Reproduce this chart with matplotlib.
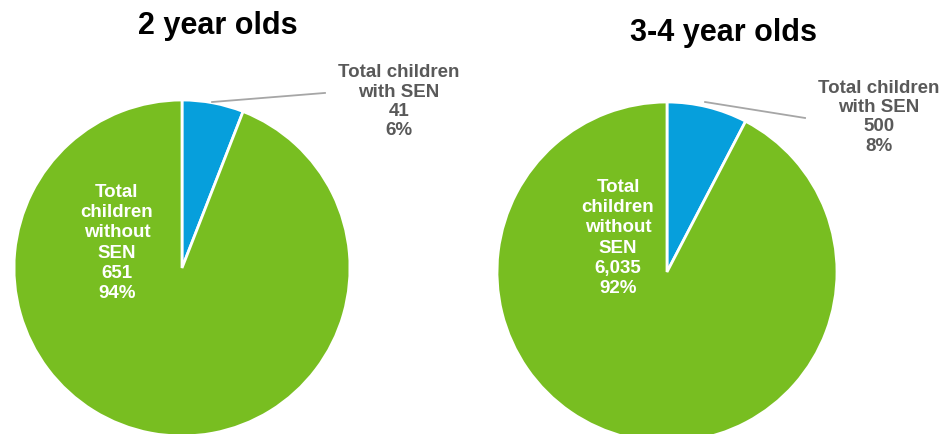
import matplotlib.pyplot as plt

plt.rcParams['font.family'] = ['Liberation Sans', 'DejaVu Sans']

# Children counts by SEN status
titles = ['2 year olds', '3-4 year olds']
with_sen = [41, 500]
without_sen = [651, 6035]

blue = '#069FDC'
green = '#78BE21'
grey_text = '#595959'

fig = plt.figure(figsize=(9.43, 4.34), dpi=100)
W, H = 943, 434

# pixel layout: centre x, centre y (from top), radius
layout = [(182, 268, 168), (667, 272, 170)]
title_pos = [(218, 26), (723, 33)]
outer_lbl = [(1.29, 0.99), (1.247, 0.91)]
inner_lbl = [(-0.387, 0.149), (-0.288, 0.2)]
leaders = [((0.179, 0.988), (0.851, 1.042)), ((0.224, 1.0), (0.812, 0.906))]

for i in range(2):
    cx, cy, r = layout[i]
    ax = fig.add_axes([(cx - r) / W, (H - cy - r) / H, 2 * r / W, 2 * r / H])
    vals = [with_sen[i], without_sen[i]]
    total = sum(vals)
    ax.pie(vals, colors=[blue, green], startangle=90, counterclock=False,
           radius=1, wedgeprops=dict(edgecolor='white', linewidth=2))
    ax.set_xlim(-1, 1)
    ax.set_ylim(-1, 1)
    ax.set_aspect('equal')
    ax.axis('off')

    pct_in = round(100 * with_sen[i] / total)
    pct_out = round(100 * without_sen[i] / total)
    ax.text(*outer_lbl[i], f'Total children\nwith SEN\n{with_sen[i]:,}\n{pct_in}%',
            ha='center', va='center', fontsize=13.5, fontweight='bold',
            color=grey_text, linespacing=1.18, clip_on=False)
    ax.text(*inner_lbl[i], f'Total\nchildren\nwithout\nSEN\n{without_sen[i]:,}\n{pct_out}%',
            ha='center', va='center', fontsize=13.5, fontweight='bold',
            color='white', linespacing=1.25)
    (x0, y0), (x1, y1) = leaders[i]
    ax.plot([x0, x1], [y0, y1], color='#A6A6A6', linewidth=1.3, clip_on=False)

    tx, ty = title_pos[i]
    fig.text(tx / W, 1 - ty / H, titles[i], ha='center', va='center',
             fontsize=22, fontweight='bold', color='black')

fig.savefig('out.png', dpi=100)
